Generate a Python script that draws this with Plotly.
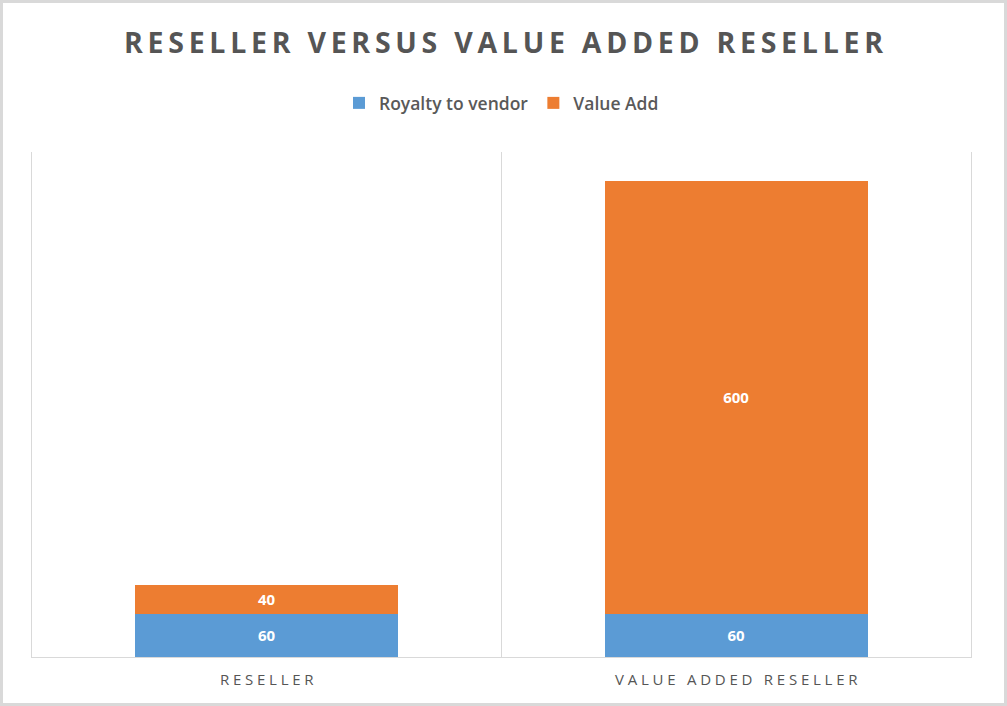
import plotly.graph_objects as go

categories = ["RESELLER", "VALUE ADDED RESELLER"]
royalty = [60, 60]
value_add = [40, 600]
series_names = ["Royalty to vendor", "Value Add"]
title_text = "RESELLER VERSUS VALUE ADDED RESELLER"

W, H = 1007, 706
ML, MR, MT, MB = 32, 36, 152, 49

def spaced(s, sep="\u2009"):
    return sep.join(list(s))

label_font = dict(color="white", size=15, family="Open Sans", weight="bold")

fig = go.Figure()
fig.add_trace(go.Bar(
    x=categories, y=royalty, name=series_names[0],
    marker=dict(color="#5B9BD5", line=dict(width=0)),
    text=royalty, textposition="inside", insidetextanchor="middle",
    textfont=label_font,
))
fig.add_trace(go.Bar(
    x=categories, y=value_add, name=series_names[1],
    marker=dict(color="#ED7D31", line=dict(width=0)),
    text=value_add, textposition="inside", insidetextanchor="middle",
    textfont=label_font,
))

pw = W - ML - MR
ph = H - MT - MB
fig.add_shape(type="rect", xref="paper", yref="paper",
              x0=(1.5 - ML) / pw, x1=(W - 1.5 - ML) / pw,
              y0=-(MB - 1.5) / ph, y1=1 + (MT - 1.5) / ph,
              line=dict(color="#d9d9d9", width=3), layer="below")

fig.update_layout(
    width=W, height=H,
    margin=dict(l=ML, r=MR, t=MT, b=MB),
    barmode="stack", bargap=0.44,
    plot_bgcolor="white", paper_bgcolor="white",
    font=dict(family="Open Sans", color="#595959"),
    title=dict(text=spaced(title_text, "\u2009"), x=0.5, xanchor="center",
               y=1 - 43 / H, yanchor="middle",
               font=dict(size=28.5, family="Open Sans", weight="bold", color="#555555")),
    legend=dict(orientation="h", x=0.5, xanchor="center", y=1 + (MT - 103) / ph,
                yanchor="middle", font=dict(size=17.5, color="#595959", weight=600),
                traceorder="normal", itemwidth=30),
    showlegend=True,
    xaxis=dict(
        tickmode="array", tickvals=categories,
        ticktext=[spaced(c, "\u2005") for c in categories],
        tickson="boundaries", showgrid=True, gridcolor="#d9d9d9", gridwidth=1,
        showline=True, linecolor="#d9d9d9", linewidth=1, mirror=False,
        ticks="", tickfont=dict(size=15, color="#555555"),
        ticklabelstandoff=9,
        range=[-0.5, 1.5],
    ),
    yaxis=dict(range=[0, 700], showgrid=False, showticklabels=False,
               zeroline=False, showline=True, mirror=True,
               linecolor="#d9d9d9", linewidth=1, ticks=""),
)

fig.write_html("out.html", config={"displayModeBar": False},
               post_script="document.body.style.margin='0px';")
